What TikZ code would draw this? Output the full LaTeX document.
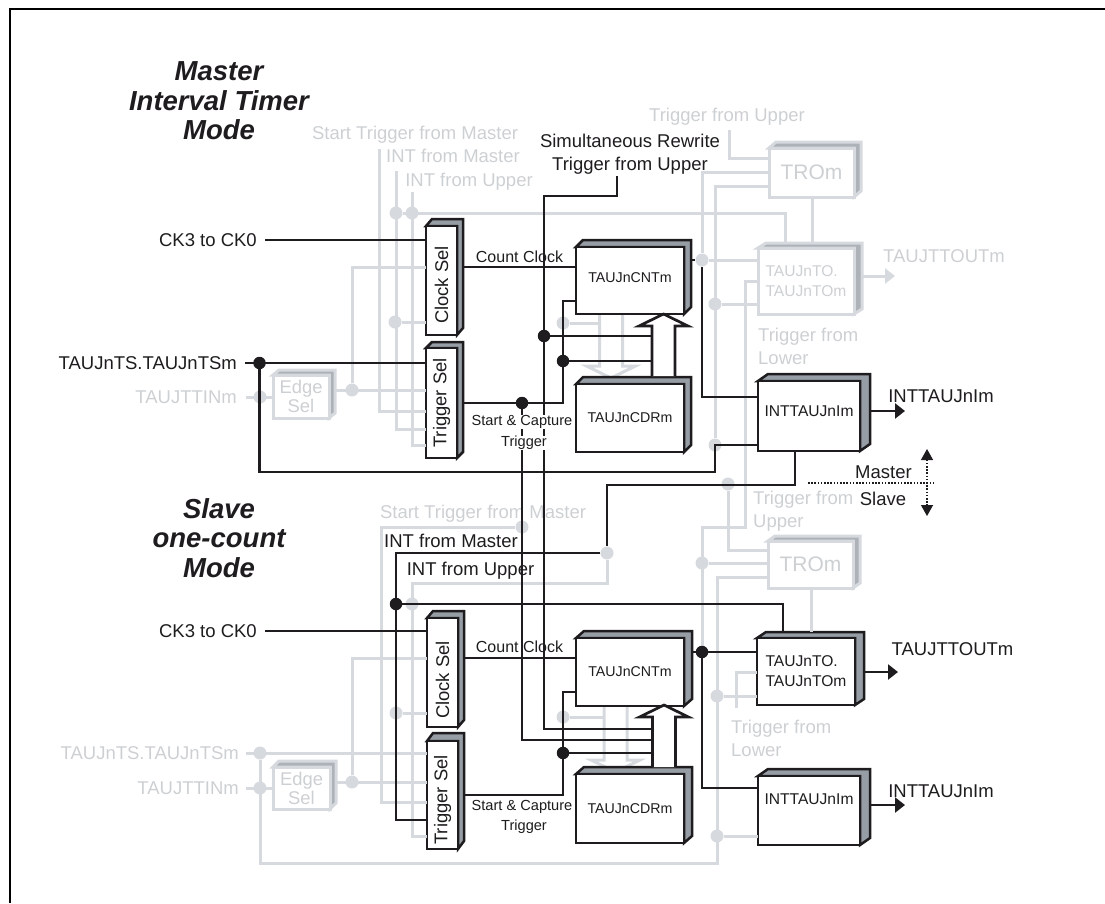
\documentclass[tikz,border=0pt]{standalone}
\usepackage{fontspec}
\setmainfont{Liberation Sans}
\usepackage{graphicx}
\usetikzlibrary{arrows.meta,calc}
\definecolor{Ink}{RGB}{30,28,30}
\definecolor{Wash}{RGB}{214,217,221}
\definecolor{TextFade}{RGB}{205,208,211}
\definecolor{FaceDark}{RGB}{150,157,164}
\definecolor{FaceFade}{RGB}{172,178,184}
\newcommand{\blockbox}[9]{%
  \filldraw[#2] (#3,#4) -- ({#3+#7-#5},#8) -- (#7,#8) -- (#7,{#6-#4+#8}) -- (#5,#6) -- (#5,#4) -- cycle;
  \node[#2,fill=white,draw,inner sep=0pt,outer sep=0pt,
    minimum width={(#5-#3)*1pt},minimum height={(#6-#4)*1pt}]
    (#1) at ({(#3+#5)/2},{(#4+#6)/2}) {#9};
  \coordinate (#1r) at (#7,#4);
  \coordinate (#1t) at (#3,#8);
}
\begin{document}
\begin{tikzpicture}[
    x=1pt,y=-1pt,
    wire/.style={line width=2.7pt,Ink},
    fade/.style={line width=3pt,Wash},
    hard/.style={draw=Ink,fill=FaceDark,line width=2.5pt,text=Ink},
    soft/.style={draw=Wash,fill=FaceFade,line width=3pt,text=TextFade},
    big/.style={font=\fontsize{18.4}{19}\selectfont,align=center},
    cntfont/.style={font=\fontsize{14.2}{17}\selectfont},
    outfont/.style={font=\fontsize{15.6}{20}\selectfont,align=left},
    lab/.style={font=\fontsize{18.5}{22}\selectfont,inner sep=0pt,text height=13pt,text depth=0pt,text=Ink},
    para/.style={font=\fontsize{18.5}{23}\selectfont,inner sep=0pt,align=left,text=Ink},
    tiny/.style={font=\fontsize{16}{18}\selectfont,inner sep=0pt,text height=11.5pt,text depth=0pt,text=Ink},
    trig/.style={font=\fontsize{14.6}{18}\selectfont,inner sep=0pt,text height=10.5pt,text depth=3pt,fill=white,text=Ink},
    title/.style={font=\fontsize{27.5}{29.5}\selectfont\bfseries\itshape,inner sep=0pt,align=center,text=Ink},
    gdot/.style={circle,fill=Wash,inner sep=0pt,minimum size=13pt},
    jdot/.style={circle,fill=Ink,inner sep=0pt,minimum size=12.5pt},
    tipb/.style={-{Triangle[length=10pt,width=15pt]},wire},
    tipg/.style={-{Triangle[length=10pt,width=15pt]},fade,Wash}
  ]
  \useasboundingbox (0,0) rectangle (1105,903);
  \draw[line width=2.5pt,black] (1105,9) -- (10,9) -- (10,903);

  % down arrows behind the registers
  \foreach \ax/\ay in {599.5/313,604/707}{
    \draw[fade] (\ax,\ay) -- ++(0,53) -- ++(-13,0) -- ++(24.5,12) -- ++(24.5,-12) -- ++(-13,0) -- ++(0,-53);
  }

  % master blocks
  \blockbox{clkA}{hard,big}{426}{226}{457}{335}{463}{219}{\rotatebox{90}{Clock Sel\hspace{9pt}}}
  \blockbox{trgA}{hard,big}{426}{348}{457}{458}{463}{342}{\rotatebox{90}{Trigger Sel}}
  \blockbox{edgA}{soft,big}{273}{375}{329}{418}{335}{370}{Edge\\Sel}
  \blockbox{tcntA}{hard,cntfont,text depth=5pt}{576}{247}{684}{314}{691}{240}{TAUJnCNTm\hspace{5pt}}
  \blockbox{tcdrA}{hard,cntfont}{576}{384}{684}{452}{691}{377}{TAUJnCDRm\hspace{9pt}}
  \blockbox{troA}{soft,font=\fontsize{21}{24}\selectfont}{769}{148}{854}{197}{861}{142}{TROm}
  \blockbox{toA}{soft,outfont}{758}{248}{854}{314}{862}{243}{TAUJnTO.\\TAUJnTOm}
  \blockbox{inttA}{hard,outfont,text depth=10pt}{758}{381}{860}{451}{870}{374}{INTTAUJnIm}

  % slave blocks
  \blockbox{clkB}{hard,big}{427}{618}{458}{727}{464}{611}{\rotatebox{90}{Clock Sel\hspace{15pt}}}
  \blockbox{trgB}{hard,big}{427}{741}{458}{849}{464}{733}{\rotatebox{90}{Trigger Sel\hspace{10pt}}}
  \blockbox{edgB}{soft,big}{273}{767}{330}{809}{336}{761}{Edge\\Sel}
  \blockbox{tcntB}{hard,cntfont}{576}{638}{684}{706}{692}{631}{TAUJnCNTm\hspace{5pt}}
  \blockbox{tcdrB}{hard,cntfont}{576}{774}{684}{843}{692}{767}{TAUJnCDRm\hspace{5pt}}
  \blockbox{troB}{soft,font=\fontsize{21}{24}\selectfont}{768}{541}{853}{588}{860}{536}{TROm}
  \blockbox{toB}{hard,outfont}{757}{638}{855}{705}{864}{632}{TAUJnTO.\\TAUJnTOm}
  \blockbox{inttB}{hard,outfont,text depth=22pt}{758}{776}{860}{845}{870}{769}{INTTAUJnIm}

  % titles
  \node[title] (modeA) at (219,101) {Master\\Interval Timer\\Mode};
  \node[title] (modeB) at (219,538) {Slave\\one-count\\Mode};

  % labels on the faded lines
  \node[lab,text=TextFade] (lstA) at (415,133) {Start Trigger from Master};
  \node[lab,text=TextFade] (limA) at (453,156) {INT from Master};
  \node[lab,text=TextFade] (liuA) at (469,180) {INT from Upper};
  \node[lab,text=TextFade] (lupA) at (727,115) {Trigger from Upper};
  \node[lab,text=TextFade] (loutA) at (944,256) {TAUJTTOUTm};
  \node[para,text=TextFade,anchor=west] (llowA) at (758,346.5) {Trigger from\\Lower};
  \node[lab,text=TextFade,anchor=east] (lttinA) at (237,397) {TAUJTTINm};
  \node[lab,text=TextFade] (lstB) at (483,512) {Start Trigger from Master};
  \node[para,text=TextFade,anchor=west] (lupB) at (753,511) {Trigger from\\Upper};
  \node[para,text=TextFade,anchor=west] (llowB) at (731,738.5) {Trigger from\\Lower};
  \node[lab,text=TextFade,anchor=east] (ltsB) at (239,753) {TAUJnTS.TAUJnTSm};
  \node[lab,text=TextFade,anchor=east] (lttinB) at (239,788) {TAUJTTINm};

  % faded junctions and free ends
  \foreach \nm/\px/\py in {gimA/396/213,giuA/412/213,gclkA/395/322,gedgA/352/390,gttA/260/397,
      gcdrA/563/323,gcntA/702/260,gtoA/715/304,gintA/715/445,gslvA/728/484,
      gstB/522/527,gimB/607/553,giuB/412/604,gclkB/396/713,gedgB/352/782,gtsB/260/753,gttB/260/788,
      gcdrB/563/717,gtroB/702/563,gtoB/717/696,gintB/717/836}{
    \node[gdot] (\nm) at (\px,\py) {};
  }
  \foreach \nm/\px/\py in {stA/379/149,imA/396/171,iuA/412/192,tuA/729/130,bendA/745/527,
      stB/381/802,iuB/412/583,botB/717/863,lowB/736/708,rwA/617/176,topA/544/196,
      drvA/715/472,loopA/607/485,upA/652.5/376,upB/653/767}{
    \coordinate (\nm) at (\px,\py);
  }

  % faded wiring, master
  \draw[fade] (stA) |- (trgA.west |- 0,411);
  \draw[fade] (imA) |- (trgA.west |- 0,429);
  \draw[fade] (iuA) |- (trgA.west |- 0,445);
  \draw[fade] (gimA) -| (785,0 |- toAt);
  \draw[fade] (gclkA) -- (clkA.west |- gclkA);
  \draw[fade] (gedgA) |- (clkA.west |- 0,267);
  \draw[fade] (edgAr |- gedgA) -- (trgA.west |- gedgA);
  \draw[fade,shorten <=9pt] (lttinA.east) -- (edgA.west |- lttinA);
  \draw[fade] (gcdrA) -- ++(36,0);
  \draw[fade] (tuA) |- (troA.west |- 0,158);
  \draw[fade] (troA.west |- 0,172) -| (gcntA);
  \draw[fade] (troA.west |- 0,186) -| (gintA);
  \draw[fade] (812,0 |- troA.south) -- (812,0 |- toAt);
  \draw[fade] (gcntA) -- (toA.west |- gcntA);
  \draw[fade] (gtoA) -- (toA.west |- gtoA);
  \draw[fade] (toA.west |- 0,281) -| (bendA) -| (702,652);
  \draw[tipg] (toAr |- 0,276) -- ++(33,0);

  % faded wiring, slave
  \draw[fade] (gslvA) |- (troB.west |- 0,550);
  \draw[fade] (gstB) -| (stB) -- (trgB.west |- stB);
  \draw[fade] (gimB) |- (iuB) |- (trgB.west |- 0,836);
  \draw[fade] (gclkB) -- (clkB.west |- gclkB);
  \draw[fade] (gedgB) |- (clkB.west |- 0,658);
  \draw[fade] (edgBr |- gedgB) -- (trgB.west |- gedgB);
  \draw[fade,shorten <=7pt] (ltsB.east) -- (trgB.west |- ltsB);
  \draw[fade,shorten <=7pt] (lttinB.east) -- (edgB.west |- lttinB);
  \draw[fade] (gtsB) |- (botB) |- (troB.west |- 0,577);
  \draw[fade] (gtoB) -- (toB.west |- gtoB);
  \draw[fade] (gintB) -- (inttB.west |- gintB);
  \draw[fade] (gtroB) -- (troB.west |- gtroB);
  \draw[fade] (gcdrB) -- ++(41,0);
  \draw[fade] (811,0 |- troB.south) -- (811,0 |- toBt);
  \draw[fade] (toB.west |- 0,672) -| (lowB);

  % solid junctions
  \foreach \nm/\px/\py in {jtsA/259.5/363,jsimA/544/336,jstcA/522/403,jcdrA/563/361,
      jintB/396/604,jcdrB/563/753,jcntB/702/652}{
    \node[jdot] (\nm) at (\px,\py) {};
  }

  % labels on the solid lines
  \node[lab,anchor=east] (lckA) at (257,240) {CK3 to CK0};
  \node[lab,anchor=east] (ltsA) at (237,363) {TAUJnTS.TAUJnTSm};
  \node[lab,anchor=east] (lckB) at (257,631) {CK3 to CK0};
  \node[para,align=center] (lrwA) at (630,154.5) {Simultaneous Rewrite\\Trigger from Upper};

  % solid wiring, master
  \draw[wire,shorten <=8pt] (lckA.east) -- (clkA.west |- lckA);
  \draw[wire,shorten <=8pt] (ltsA.east) -- (trgA.west |- ltsA);
  \draw[wire] (clkAr |- 0,267) -- (tcntA.west |- 0,267);
  \draw[wire] (jtsA) |- (drvA) |- (inttA.west |- 0,445);
  \draw[wire] (trgAr |- jstcA) -| (jcdrA) |- (tcntA.west |- 0,301);
  \draw[wire] (tcntAr |- gcntA) -- (gcntA) |- (inttA.west |- 0,397);
  \draw[wire] (rwA) |- (topA) |- (upB |- 0,729);
  \draw[wire] (jstcA) |- (upB |- 0,740);
  \draw[wire] (jsimA) -- (upA |- jsimA);
  \draw[wire] (jcdrA) -- (upA |- jcdrA);
  \draw[wire] (795,0 |- inttA.south) |- (loopA) -- (gimB) -| (jintB) |- (trgB.west |- 0,820);
  \draw[tipb] (inttAr |- 0,411) -- ++(35,0);

  % solid wiring, slave
  \draw[wire] (jintB) -| (783,0 |- toBt);
  \draw[wire,shorten <=8pt] (lckB.east) -- (clkB.west |- lckB);
  \draw[wire] (clkBr |- 0,658) -- (tcntB.west |- 0,658);
  \draw[wire] (trgBr |- 0,795) -| (jcdrB) |- (tcntB.west |- 0,692);
  \draw[wire] (jcdrB) -- (upB |- jcdrB);
  \draw[wire] (tcntBr |- jcntB) -- (toB.west |- jcntB);
  \draw[wire] (jcntB) |- (inttB.west |- 0,788);
  \draw[tipb] (toBr |- 0,672) -- ++(34,0);
  \draw[tipb] (inttBr |- 0,805) -- ++(35,0);

  % register transfer arrows
  \foreach \ax/\ay in {652/376,652.5/767}{
    \draw[wire,fill=white] (\ax,\ay) -- ++(0,-50) -- ++(-13,0) -- ++(24.5,-12) -- ++(24.5,12) -- ++(-13,0) -- ++(0,50);
  }

  % master and slave divider
  \coordinate (msL) at (808,483);
  \coordinate (msR) at (935,483);
  \coordinate (msU) at (927,449);
  \coordinate (msD) at (927,516);
  \draw[line width=1.3pt,Ink,dash pattern=on 1.6pt off 1.6pt] (msL) -- (msR);
  \draw[line width=1.3pt,Ink,dash pattern=on 1.6pt off 1.6pt,
    {Triangle[length=11pt,width=12pt]}-{Triangle[length=11pt,width=12pt]}] (msU) -- (msD);

  % remaining labels
  \node[lab] (lmst) at (883.5,472) {Master};
  \node[lab] (lslv) at (883,499) {Slave};
  \node[tiny] (lccA) at (519.5,257) {Count Clock};
  \node[tiny] (lccB) at (519.5,647) {Count Clock};
  \node[trig] (lscA) at (522,422) {Start \& Capture};
  \node[trig] (ltgA) at (524,443) {Trigger};
  \node[trig] (lscB) at (522,807) {Start \& Capture};
  \node[trig] (ltgB) at (524,827) {Trigger};
  \node[lab] (limB) at (451,541) {INT from Master};
  \node[lab] (liuB) at (470.5,569) {INT from Upper};
  \node[lab] (lintA) at (941,396) {INTTAUJnIm};
  \node[lab] (lintB) at (941,791) {INTTAUJnIm};
  \node[lab] (loutB) at (952.5,649) {TAUJTTOUTm};
\end{tikzpicture}
\end{document}
